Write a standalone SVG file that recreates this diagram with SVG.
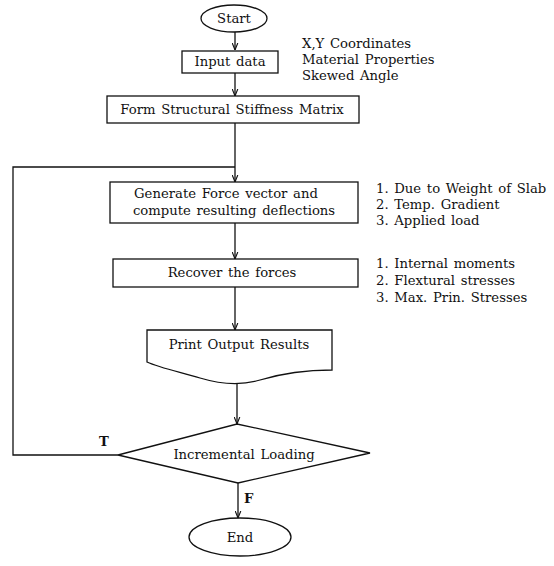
<svg xmlns="http://www.w3.org/2000/svg" width="554" height="566" viewBox="0 0 554 566">
<style>
.s{fill:#fff;stroke:#111;stroke-width:1.3}
.c{fill:none;stroke:#111;stroke-width:1.3}
.t{font-family:"DejaVu Serif","Liberation Serif",serif;font-size:13.2px;fill:#111;word-spacing:1.5px}
.m{text-anchor:middle}
</style>
<defs>
<marker id="ah" viewBox="0 0 10 10" refX="10" refY="5" markerWidth="7" markerHeight="7" orient="auto" markerUnits="userSpaceOnUse">
<path d="M0,1 L10,5 L0,9" fill="none" stroke="#111" stroke-width="1.6"/>
</marker>
</defs>
<rect width="554" height="566" fill="#fff"/>
<g id="connectors">
<line class="c" x1="235" y1="32" x2="235" y2="50" marker-end="url(#ah)"/>
<line class="c" x1="235" y1="73" x2="235" y2="96" marker-end="url(#ah)"/>
<line class="c" x1="235" y1="123" x2="235" y2="182" marker-end="url(#ah)"/>
<polyline class="c" points="118,455 13,455 13,167 235,167"/>
<line class="c" x1="235" y1="223" x2="235" y2="259" marker-end="url(#ah)"/>
<line class="c" x1="235" y1="287" x2="235" y2="330" marker-end="url(#ah)"/>
<line class="c" x1="237" y1="382" x2="237" y2="424" marker-end="url(#ah)"/>
<line class="c" x1="238" y1="483" x2="238" y2="518" marker-end="url(#ah)"/>
<text class="t" x="99" y="446" font-weight="bold">T</text>
<text class="t" x="244" y="503" font-weight="bold">F</text>
</g>
<g id="start">
<ellipse class="s" cx="234" cy="18.5" rx="33" ry="13.5"/>
<text class="t m" x="234" y="23">Start</text>
</g>
<g id="input">
<rect class="s" x="182" y="51" width="96" height="22"/>
<text class="t m" x="230" y="66">Input data</text>
</g>
<g id="input-notes">
<text class="t" x="302" y="48">X,Y Coordinates</text>
<text class="t" x="302" y="64">Material Properties</text>
<text class="t" x="302" y="80">Skewed Angle</text>
</g>
<g id="stiffness">
<rect class="s" x="107" y="96" width="252" height="27"/>
<text class="t m" x="232" y="114">Form Structural Stiffness Matrix</text>
</g>
<g id="generate">
<rect class="s" x="110" y="182" width="248" height="41"/>
<text class="t m" x="226" y="198">Generate Force vector and</text>
<text class="t m" x="234" y="215">compute resulting deflections</text>
</g>
<g id="generate-notes">
<text class="t" x="376" y="193">1. Due to Weight of Slab</text>
<text class="t" x="376" y="209">2. Temp. Gradient</text>
<text class="t" x="376" y="225">3. Applied load</text>
</g>
<g id="recover">
<rect class="s" x="113" y="259" width="245" height="28"/>
<text class="t m" x="232" y="277">Recover the forces</text>
</g>
<g id="recover-notes">
<text class="t" x="376" y="268">1. Internal moments</text>
<text class="t" x="376" y="285">2. Flextural stresses</text>
<text class="t" x="376" y="302">3. Max. Prin. Stresses</text>
</g>
<g id="print">
<path class="s" d="M147,330 L332,330 L332,370 C300,370 280,374 260,380 C240,386 220,384 200,378 C180,372 160,368 147,362 Z"/>
<text class="t m" x="239" y="349">Print Output Results</text>
</g>
<g id="decision">
<polygon class="s" points="118,455 237,424 370,453 238,483"/>
<text class="t m" x="244" y="459">Incremental Loading</text>
</g>
<g id="end">
<ellipse class="s" cx="240" cy="537" rx="51" ry="19"/>
<text class="t m" x="240" y="542">End</text>
</g>
</svg>
